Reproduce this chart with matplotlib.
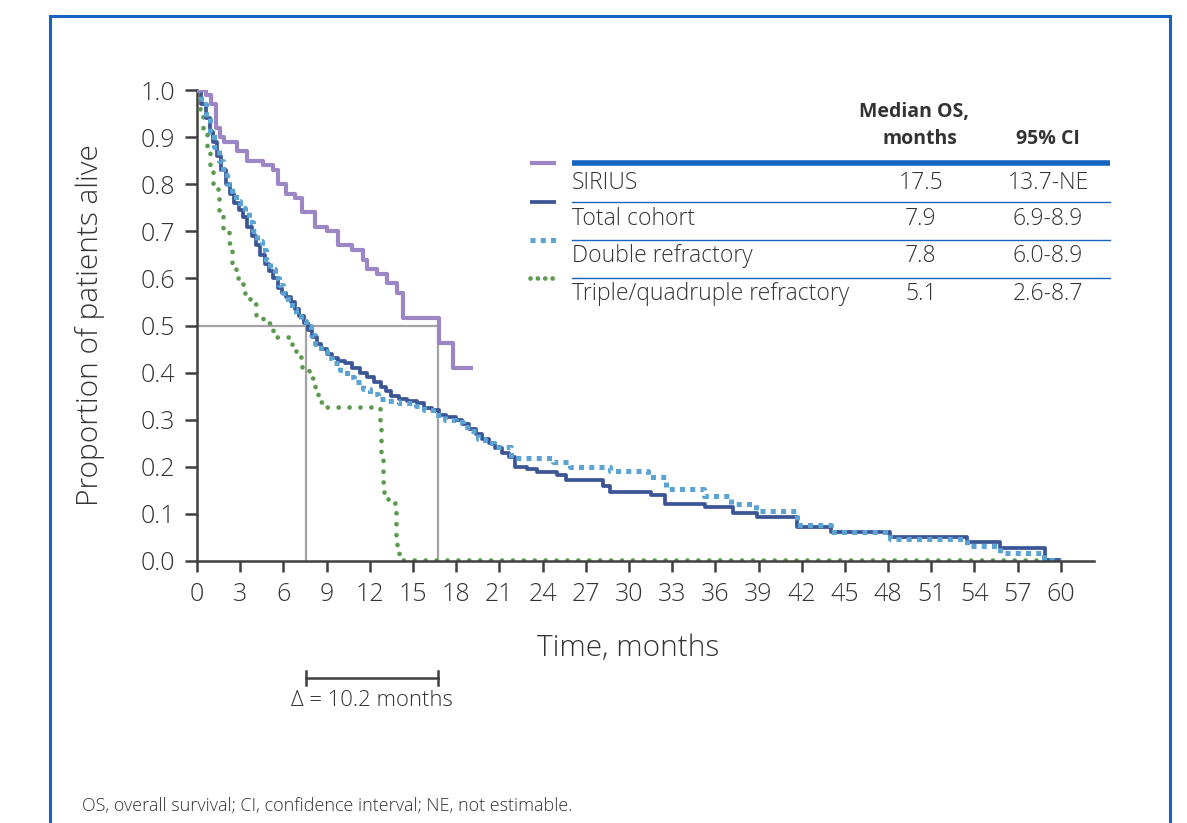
import matplotlib
matplotlib.use("Agg")
import matplotlib.pyplot as plt
from matplotlib.lines import Line2D
from matplotlib.patches import Rectangle

plt.rcParams['font.family'] = ['Open Sans', 'DejaVu Sans']

# ---------------- data ----------------
sirius_t = [0, 0.6, 1.0, 1.3, 1.6, 1.9, 2.8, 3.5, 4.6, 5.3, 5.6, 6.2, 6.8, 7.3, 8.2, 9.0, 9.8,
            10.8, 11.5, 11.8, 12.5, 13.2, 13.9, 14.3, 16.8, 17.8, 19.2]
sirius_s = [1.0, 0.99, 0.97, 0.92, 0.90, 0.89, 0.87, 0.85, 0.84, 0.83, 0.80, 0.78, 0.77, 0.74, 0.71, 0.70, 0.67,
            0.66, 0.64, 0.62, 0.61, 0.59, 0.57, 0.515, 0.463, 0.41, 0.41]

total_t = [0, 0.3, 0.6, 0.9, 1.1, 1.4, 1.7, 2.0, 2.3, 2.6, 2.9, 3.2, 3.5, 3.8, 4.1, 4.4, 4.7, 5.0, 5.3,
           5.6, 5.9, 6.2, 6.5, 6.8, 7.1, 7.4, 7.7, 8.0, 8.3, 8.6, 9.0, 9.4, 9.8, 10.3, 10.8, 11.3, 11.8,
           12.3, 12.8, 13.1, 13.5, 14.0, 14.6, 15.3, 15.8, 16.3, 16.8, 17.3, 18.0, 18.4, 18.9, 19.4, 19.8,
           20.3, 20.7, 21.2, 21.7, 22.1, 22.9, 23.6, 25.0, 25.6, 28.2, 28.7, 31.5, 32.5, 35.3, 37.2, 38.9,
           41.7, 44.0, 48.1, 53.5, 55.8, 58.9, 60.0]
total_s = [1.0, 0.97, 0.94, 0.91, 0.89, 0.86, 0.83, 0.80, 0.78, 0.76, 0.745, 0.73, 0.71, 0.69, 0.67, 0.65,
           0.63, 0.615, 0.60, 0.58, 0.57, 0.56, 0.55, 0.535, 0.52, 0.505, 0.49, 0.475, 0.46, 0.45, 0.44, 0.43,
           0.425, 0.42, 0.41, 0.40, 0.39, 0.38, 0.37, 0.36, 0.35, 0.345, 0.34, 0.335, 0.325, 0.32, 0.31,
           0.305, 0.30, 0.29, 0.28, 0.27, 0.26, 0.25, 0.24, 0.23, 0.22, 0.20, 0.195, 0.188, 0.183, 0.172,
           0.16, 0.147, 0.14, 0.122, 0.115, 0.102, 0.093, 0.072, 0.062, 0.051, 0.04, 0.028, 0.003, 0.003]

double_t = [0, 0.3, 0.6, 0.9, 1.2, 1.5, 1.8, 2.1, 2.4, 2.7, 3.0, 3.3, 3.6, 3.9, 4.2, 4.5, 4.8, 5.1, 5.4,
            5.7, 6.0, 6.3, 6.6, 6.9, 7.2, 7.6, 7.9, 8.2, 8.6, 9.0, 9.4, 9.9, 10.4, 10.9, 11.5, 12.0, 12.6,
            13.2, 14.0, 15.2, 15.8, 16.4, 17.2, 18.0, 18.5, 19.0, 19.5, 20.0, 20.6, 21.8, 24.7, 25.9, 28.7,
            31.3, 32.6, 35.2, 37.1, 38.8, 41.7, 44.0, 48.1, 53.5, 55.8, 58.8, 60.0]
double_s = [1.0, 0.97, 0.94, 0.91, 0.88, 0.85, 0.82, 0.80, 0.78, 0.765, 0.75, 0.74, 0.72, 0.70, 0.68, 0.66,
            0.64, 0.62, 0.60, 0.585, 0.57, 0.55, 0.535, 0.52, 0.51, 0.50, 0.48, 0.46, 0.445, 0.43, 0.42,
            0.405, 0.39, 0.38, 0.365, 0.355, 0.345, 0.34, 0.335, 0.33, 0.32, 0.31, 0.30, 0.295, 0.285,
            0.275, 0.26, 0.25, 0.242, 0.219, 0.211, 0.200, 0.191, 0.179, 0.152, 0.137, 0.121, 0.106, 0.076,
            0.062, 0.047, 0.032, 0.017, 0.002, 0.002]

triple_t = [0, 0.1, 0.2, 0.4, 0.7, 0.9, 1.1, 1.5, 1.8, 2.2, 2.4, 2.7, 3.2, 3.7, 4.1, 4.6, 5.1, 5.3, 6.6,
            6.9, 7.3, 7.8, 8.2, 8.4, 8.8, 12.7, 12.75, 12.8, 12.9, 13.0, 13.3, 13.7, 13.8, 13.85, 13.9,
            14.0, 60.0]
triple_s = [1.0, 0.99, 0.95, 0.91, 0.87, 0.83, 0.79, 0.745, 0.707, 0.675, 0.633, 0.60, 0.57, 0.545, 0.52,
            0.505, 0.49, 0.476, 0.455, 0.433, 0.405, 0.389, 0.357, 0.338, 0.327, 0.30, 0.257, 0.215, 0.168,
            0.144, 0.13, 0.123, 0.10, 0.055, 0.03, 0.003, 0.003]

groups = ["SIRIUS", "Total cohort", "Double refractory", "Triple/quadruple refractory"]
median_os = ["17.5", "7.9", "7.8", "5.1"]
ci95 = ["13.7-NE", "6.9-8.9", "6.0-8.9", "2.6-8.7"]

x_ticks = list(range(0, 61, 3))
y_ticks = [0.0, 0.1, 0.2, 0.3, 0.4, 0.5, 0.6, 0.7, 0.8, 0.9, 1.0]
median_lines = [7.6, 16.75]

# ---------------- styles ----------------
C_PURPLE = "#9d86c6"
C_DARK = "#3b5596"
C_LIGHT = "#5ba3d3"
C_GREEN = "#5b9a4f"
C_GRAY = "#a3a3a3"
C_AX = "#404040"
C_TXT = "#333333"
C_FRAME = "#1565c0"
FW = 'light'

W, H = 1187, 823
fig = plt.figure(figsize=(W / 100, H / 100), dpi=100)


def fx(px):
    return px / W


def fy(py):
    return 1 - py / H


ax = fig.add_axes([fx(197), fy(561), fx(1094) - fx(197), fy(90) - fy(561)])
ax.set_xlim(0, 62.3)
ax.set_ylim(0, 1.0)

styles = [
    dict(color=C_PURPLE, lw=3.0, solid_capstyle='butt'),
    dict(color=C_DARK, lw=2.7, solid_capstyle='butt'),
    dict(color=C_LIGHT, lw=3.6, linestyle=(0, (1.0, 1.05)), dash_capstyle='butt'),
    dict(color=C_GREEN, lw=3.4, linestyle=(0, (0.01, 2.3)), dash_capstyle='round'),
]

# median reference lines
ax.plot([0, median_lines[1]], [0.5, 0.5], color=C_GRAY, lw=1.6, zorder=1)
for m in median_lines:
    ax.plot([m, m], [0, 0.5], color=C_GRAY, lw=1.6, zorder=1)

ax.plot(triple_t, triple_s, drawstyle='steps-post', zorder=3, **styles[3])
ax.plot(total_t, total_s, drawstyle='steps-post', zorder=4, **styles[1])
ax.plot(double_t, double_s, drawstyle='steps-post', zorder=5, **styles[2])
ax.plot(sirius_t, sirius_s, drawstyle='steps-post', zorder=6, **styles[0])

for s in ['top', 'right']:
    ax.spines[s].set_visible(False)
for s in ['left', 'bottom']:
    ax.spines[s].set_color(C_AX)
    ax.spines[s].set_linewidth(1.8)
ax.spines['bottom'].set_zorder(7)

ax.set_xticks(x_ticks)
ax.set_xticklabels([str(v) for v in x_ticks])
ax.set_yticks(y_ticks)
ax.set_yticklabels([f"{v:.1f}" for v in y_ticks])
ax.tick_params(axis='both', colors=C_AX, labelcolor=C_TXT, width=1.8, labelsize=18)
ax.tick_params(axis='y', length=9, pad=7)
ax.tick_params(axis='x', length=8, pad=7)
for lab in ax.get_xticklabels() + ax.get_yticklabels():
    lab.set_fontweight(FW)

fig.text(fx(90), fy(325), "Proportion of patients alive", rotation=90, ha='center', va='center',
         fontsize=21.5, color=C_TXT, fontweight=FW)
fig.text(fx(628), fy(648), "Time, months", ha='center', va='center', fontsize=21.5, color=C_TXT,
         fontweight=FW)

# delta bar
ax.plot(median_lines, [-0.248, -0.248], color=C_AX, lw=1.8, clip_on=False)
for m in median_lines:
    ax.plot([m, m], [-0.233, -0.263], color=C_AX, lw=1.8, clip_on=False)
fig.text(fx(372), fy(701), "Δ = 10.2 months", ha='center', va='center', fontsize=15.8, color=C_TXT,
         fontweight=FW)

# table
fig.text(fx(914), fy(112), "Median OS,", ha='center', va='center', fontsize=14, fontweight='bold',
         color=C_TXT)
fig.text(fx(920), fy(139), "months", ha='center', va='center', fontsize=14, fontweight='bold',
         color=C_TXT)
fig.text(fx(1048), fy(139), "95% CI", ha='center', va='center', fontsize=14, fontweight='bold',
         color=C_TXT)
fig.add_artist(Line2D([fx(572), fx(1110)], [fy(163), fy(163)], color=C_FRAME, lw=4.0,
                      solid_capstyle='butt'))
row_y = [183, 219, 256, 294]
line_y = [202, 240, 278]
for ly in line_y:
    fig.add_artist(Line2D([fx(572), fx(1110)], [fy(ly), fy(ly)], color=C_FRAME, lw=1.0))
sw_y = [163, 202, 240, 278]
for i in range(4):
    fig.text(fx(572), fy(row_y[i]), groups[i], ha='left', va='center', fontsize=16.5, color=C_TXT,
             fontweight=FW)
    fig.text(fx(921), fy(row_y[i]), median_os[i], ha='center', va='center', fontsize=16.5, color=C_TXT,
             fontweight=FW)
    fig.text(fx(1048), fy(row_y[i]), ci95[i], ha='center', va='center', fontsize=16.5, color=C_TXT,
             fontweight=FW)
    st = dict(styles[i])
    if i == 3:
        st['linestyle'] = (0, (0.01, 1.55))
    fig.add_artist(Line2D([fx(530), fx(556)], [fy(sw_y[i]), fy(sw_y[i])], **st))

# footnote
fig.text(fx(82), fy(806), "OS, overall survival; CI, confidence interval; NE, not estimable.",
         ha='left', va='center', fontsize=13, color=C_TXT, fontweight=FW)

# frame
fig.add_artist(Rectangle((fx(50), fy(880)), fx(1170) - fx(50), fy(16) - fy(880),
                         fill=False, edgecolor=C_FRAME, lw=2.2, clip_on=False))

fig.savefig("out.png", dpi=100)
